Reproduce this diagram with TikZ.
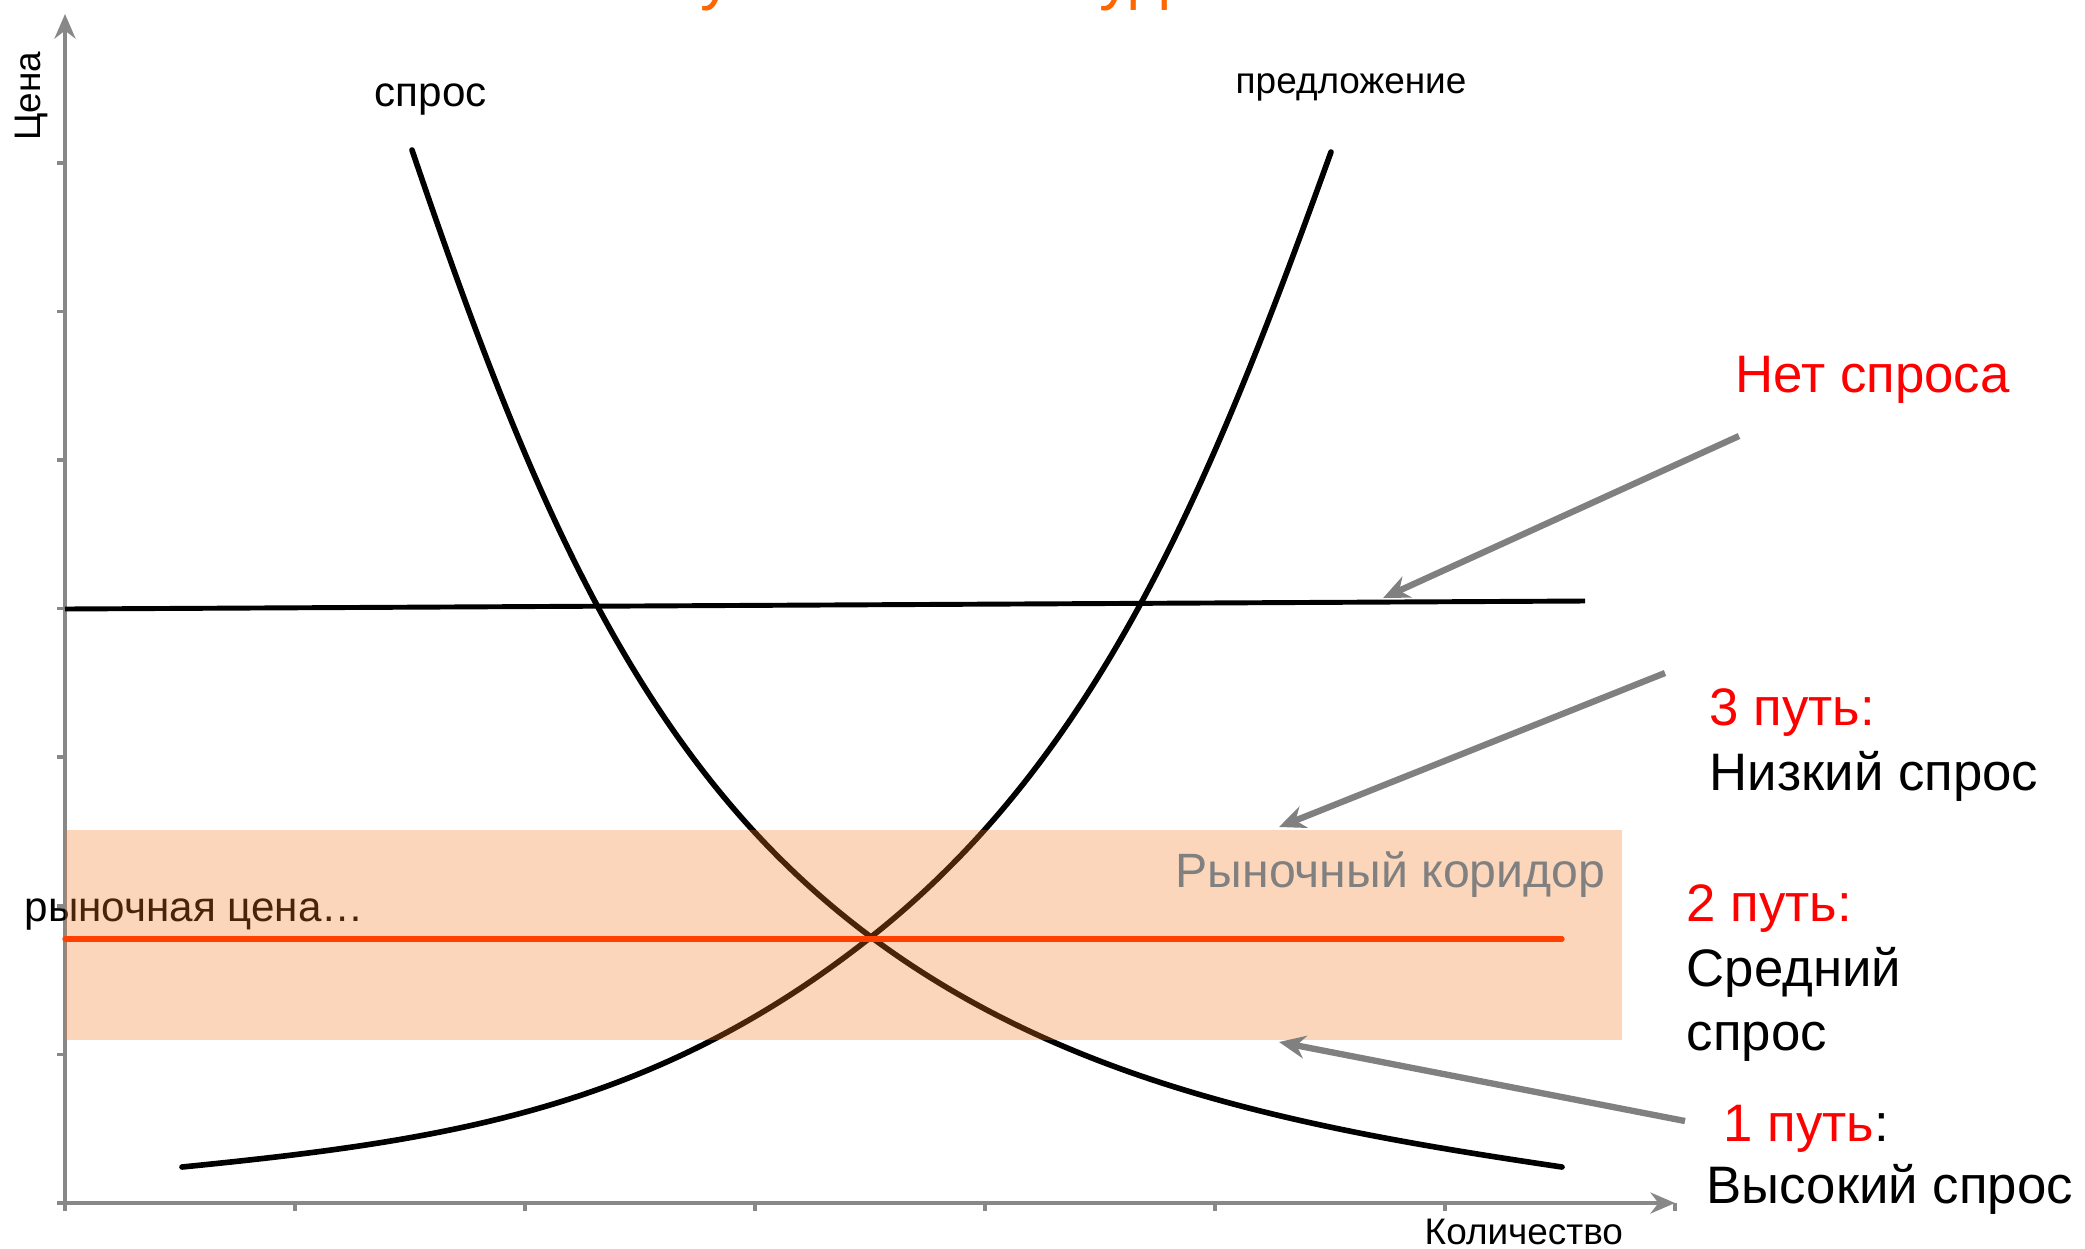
\documentclass[tikz,border=0pt]{standalone}
\usepackage{fontspec}
\setmainfont{Liberation Sans}
\usetikzlibrary{arrows.meta}
\definecolor{axisgray}{RGB}{136,136,136}
\definecolor{arrowgray}{RGB}{128,128,128}
\definecolor{pricered}{RGB}{255,64,0}
\definecolor{bandorange}{RGB}{246,120,30}
\definecolor{labelred}{RGB}{255,0,0}
\definecolor{titleorange}{RGB}{255,102,0}

\begin{document}
\begin{tikzpicture}[x=0.01cm,y=-0.01cm,
  txt/.style={inner sep=0pt, anchor=base west},
  axisline/.style={draw=axisgray, line width=1pt},
  axisarrow/.style={axisline, -{Stealth[length=7pt,width=6pt]}},
  curve/.style={black, line width=1.6pt, line cap=round},
  pointer/.style={draw=arrowgray, line width=1.8pt, -{Stealth[length=7.5pt,width=6.5pt]}},
  big/.style={txt, font=\fontsize{15}{18}\selectfont},
  small/.style={txt, font=\fontsize{10.5}{12.6}\selectfont}
]
\useasboundingbox (0,0) rectangle (2085,1248);

% title, cut by the top edge
\begin{scope}
  \clip (0,0) rectangle (2085,1248);
  \node[txt, text=titleorange, font=\fontsize{18.5}{22}\selectfont] (ttlA) at (700,-3) {у};
  \node[txt, text=titleorange, font=\fontsize{18.5}{22}\selectfont] (ttlB) at (1099,-3) {уд};
\end{scope}

% axes with ticks
\draw[axisarrow] (65,1203) -- (65,14);
\draw[axisarrow] (65,1203) -- (1675,1203);
\foreach \k in {0,...,7} {
  \draw[axisline] (57,{1203-148.6*\k}) -- (65,{1203-148.6*\k});
  \draw[axisline] ({65+230*\k},1203) -- ({65+230*\k},1211);
}

% axis titles
\node[small, rotate=90, anchor=base] (lblPrice) at (40,96) {Цена};
\node[small] (lblQty) at (1424,1244) {Количество};

% demand and supply
\coordinate (eq) at (871,937);
\draw[curve] (412,150) .. controls (531,500) and (641,766) .. (eq)
                       .. controls (1071,1086) and (1312,1130) .. (1562,1167);
\draw[curve] (1331,152) .. controls (1212,482) and (1101,755) .. (eq)
                        .. controls (651,1111) and (442,1141) .. (182,1167);
\node[txt, font=\fontsize{12}{14}\selectfont] (lblDemand) at (374,106) {спрос};
\node[txt, font=\fontsize{10.5}{12.6}\selectfont] (lblSupply) at (1235,93) {предложение};

% price level with no demand
\draw[black, line width=1.4pt] (65,609) -- (1585,601);

\node[txt, font=\fontsize{12}{14}\selectfont] (lblMarket) at (24,921) {рыночная цена…};

% market corridor
\fill[bandorange, fill opacity=0.3] (65,830) rectangle (1622,1040);
\draw[pricered, line width=1.5pt, line cap=round] (65,939) -- (1562,939);
\node[txt, text=arrowgray, font=\fontsize{13.7}{16}\selectfont] (lblCorridor) at (1175,887) {Рыночный коридор};

% right-hand labels
\node[big, text=labelred] (lblNone) at (1735,392) {Нет спроса};
\node[big, text=labelred] (lblP3) at (1709,725) {3 путь:};
\node[big] (lblP3b) at (1709,790) {Низкий спрос};
\node[big, text=labelred] (lblP2) at (1686,921) {2 путь:};
\node[big] (lblP2b) at (1686,986) {Средний};
\node[big] (lblP2c) at (1686,1050) {спрос};
\node[big] (lblP1) at (1723,1141) {\textcolor{labelred}{1 путь}:};
\node[big] (lblP1b) at (1706,1203) {Высокий спрос};

% pointers
\coordinate (s1) at (1739,436);
\coordinate (e1) at (1383,598);
\coordinate (s3) at (1665,673);
\coordinate (e3) at (1279,827);
\coordinate (s2) at (1685,1121);
\coordinate (e2) at (1279,1042);
\draw[pointer] (s1) -- (e1);
\draw[pointer] (s3) -- (e3);
\draw[pointer] (s2) -- (e2);
\end{tikzpicture}
\end{document}
